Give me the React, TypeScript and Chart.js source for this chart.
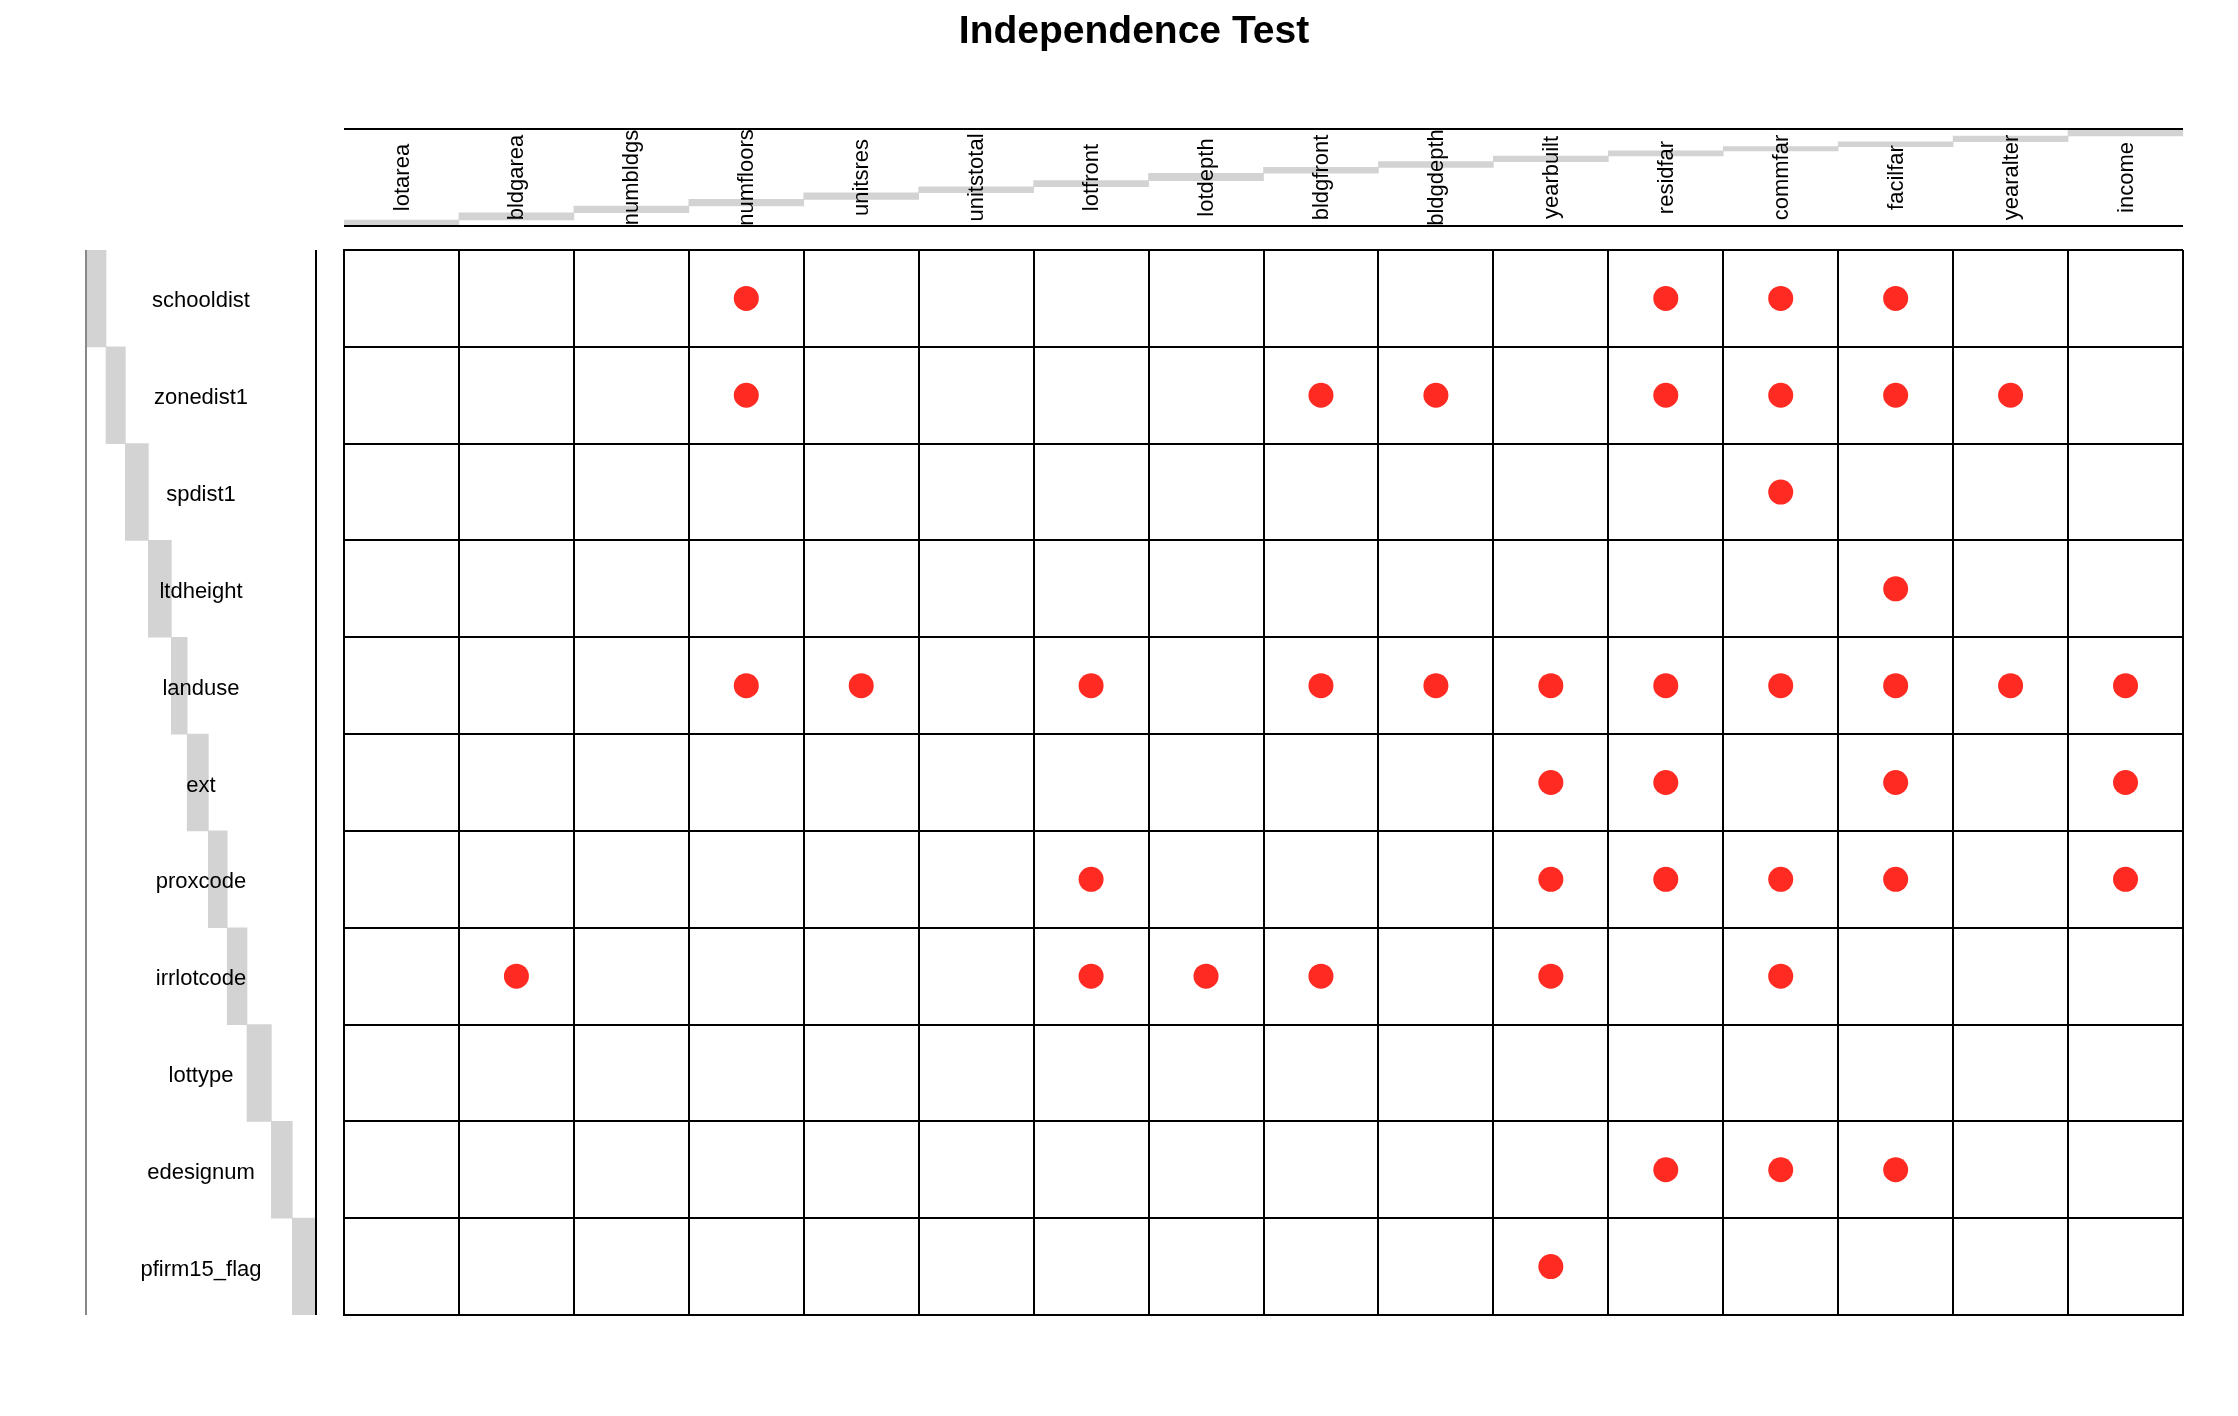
import React, { useEffect, useRef } from "react";
import { Chart, registerables } from "chart.js";

Chart.register(...registerables);

const W = 2238;
const H = 1416;
const FONT = '"Liberation Sans", Arial, Helvetica, sans-serif';

const titleText = "Independence Test";

const columns = [
  "lotarea", "bldgarea", "numbldgs", "numfloors", "unitsres", "unitstotal",
  "lotfront", "lotdepth", "bldgfront", "bldgdepth", "yearbuilt", "residfar",
  "commfar", "facilfar", "yearalter", "income",
];

const rows = [
  "schooldist", "zonedist1", "spdist1", "ltdheight", "landuse", "ext",
  "proxcode", "irrlotcode", "lottype", "edesignum", "pfirm15_flag",
];

// cumulative step boundaries (percent of band) for the grey header bars
const colSteps = [0, 6.2, 13.7, 20.6, 27.5, 34.3, 40.5, 46.7, 54.4, 60.5, 66.3, 72.2, 77.4, 81.8, 86.9, 92.8, 100];
const rowSteps = [0, 8.7, 17.1, 27.1, 37.1, 44.0, 53.2, 61.4, 70.0, 80.6, 89.7, 100];

// dependent (marked) columns for each row
const dependentCols: string[][] = [
  ["numfloors", "residfar", "commfar", "facilfar"],
  ["numfloors", "bldgfront", "bldgdepth", "residfar", "commfar", "facilfar", "yearalter"],
  ["commfar"],
  ["facilfar"],
  ["numfloors", "unitsres", "lotfront", "bldgfront", "bldgdepth", "yearbuilt", "residfar", "commfar", "facilfar", "yearalter", "income"],
  ["yearbuilt", "residfar", "facilfar", "income"],
  ["lotfront", "yearbuilt", "residfar", "commfar", "facilfar", "income"],
  ["bldgarea", "lotfront", "lotdepth", "bldgfront", "yearbuilt", "commfar"],
  [],
  ["residfar", "commfar", "facilfar"],
  ["yearbuilt"],
];

const GRID = { left: 344, top: 250, right: 2183, bottom: 1315 };
const TOPBAND = { top: 129, bottom: 226 };
const LEFTBAND = { left: 86, right: 316 };

const DOT = "#FF2B22";
const BAR = "#D3D3D3";

export default function App() {
  const mainRef = useRef<HTMLCanvasElement>(null);
  const topRef = useRef<HTMLCanvasElement>(null);
  const leftRef = useRef<HTMLCanvasElement>(null);

  useEffect(() => {
    const points: { x: number; y: number }[] = [];
    dependentCols.forEach((cols, r) => {
      cols.forEach((c) => {
        points.push({ x: columns.indexOf(c) + 0.5, y: r + 0.5 });
      });
    });

    const gridOpts = { color: "#000", lineWidth: 2, drawTicks: false };
    const borderOpts = { display: true, color: "#000", width: 2 };

    const titlePlugin = {
      id: "titleDraw",
      afterDraw(chart: any) {
        const ctx = chart.ctx;
        ctx.save();
        ctx.fillStyle = "#000";
        ctx.font = `bold 39px ${FONT}`;
        ctx.textAlign = "center";
        ctx.textBaseline = "alphabetic";
        ctx.fillText(titleText, 1134, 43);
        ctx.restore();
      },
    };

    const main = new Chart(mainRef.current!, {
      type: "scatter",
      data: {
        datasets: [
          {
            data: points,
            pointRadius: 12.5,
            pointHoverRadius: 12.5,
            backgroundColor: DOT,
            borderWidth: 0,
          },
        ],
      },
      options: {
        responsive: false,
        animation: false,
        events: [],
        layout: {
          padding: { left: GRID.left, top: GRID.top, right: W - GRID.right, bottom: H - GRID.bottom },
        },
        plugins: { legend: { display: false }, tooltip: { enabled: false }, title: { display: false } },
        scales: {
          x: {
            type: "linear", min: 0, max: columns.length,
            ticks: { display: false, stepSize: 1 },
            grid: gridOpts, border: borderOpts,
          },
          y: {
            type: "linear", min: 0, max: rows.length, reverse: true,
            ticks: { display: false, stepSize: 1 },
            grid: gridOpts, border: borderOpts,
          },
        },
      } as any,
      plugins: [titlePlugin],
    });

    const topPlugin = {
      id: "topBand",
      afterDatasetsDraw(chart: any) {
        const { ctx, chartArea } = chart;
        const xs = chart.scales.x;
        ctx.save();
        ctx.strokeStyle = "#000";
        ctx.lineWidth = 2;
        ctx.beginPath();
        ctx.moveTo(chartArea.left, chartArea.top);
        ctx.lineTo(chartArea.right, chartArea.top);
        ctx.moveTo(chartArea.left, chartArea.bottom);
        ctx.lineTo(chartArea.right, chartArea.bottom);
        ctx.stroke();
        ctx.fillStyle = "#000";
        ctx.font = `22px ${FONT}`;
        ctx.textAlign = "center";
        ctx.textBaseline = "middle";
        const cy = (chartArea.top + chartArea.bottom) / 2;
        columns.forEach((c, i) => {
          const x = xs.getPixelForValue(i);
          ctx.save();
          ctx.translate(x + 1, cy);
          ctx.rotate(-Math.PI / 2);
          ctx.fillText(c, 0, 0);
          ctx.restore();
        });
        ctx.restore();
      },
    };

    const top = new Chart(topRef.current!, {
      type: "bar",
      data: {
        labels: columns,
        datasets: [
          {
            data: columns.map((_, i) => [colSteps[i], colSteps[i + 1]]),
            backgroundColor: BAR,
            borderWidth: 0,
            barPercentage: 1,
            categoryPercentage: 1,
          },
        ],
      },
      options: {
        responsive: false,
        animation: false,
        events: [],
        layout: {
          padding: { left: GRID.left, top: TOPBAND.top, right: W - GRID.right, bottom: H - TOPBAND.bottom },
        },
        plugins: { legend: { display: false }, tooltip: { enabled: false } },
        scales: {
          x: { type: "category", display: false },
          y: { type: "linear", min: 0, max: 100, display: false },
        },
      } as any,
      plugins: [topPlugin],
    });

    const leftPlugin = {
      id: "leftBand",
      afterDatasetsDraw(chart: any) {
        const { ctx, chartArea } = chart;
        const ys = chart.scales.y;
        ctx.save();
        ctx.lineWidth = 2;
        ctx.strokeStyle = "#888";
        ctx.beginPath();
        ctx.moveTo(chartArea.left, chartArea.top);
        ctx.lineTo(chartArea.left, chartArea.bottom);
        ctx.stroke();
        ctx.strokeStyle = "#000";
        ctx.beginPath();
        ctx.moveTo(chartArea.right, chartArea.top);
        ctx.lineTo(chartArea.right, chartArea.bottom);
        ctx.stroke();
        ctx.fillStyle = "#000";
        ctx.font = `22px ${FONT}`;
        ctx.textAlign = "center";
        ctx.textBaseline = "middle";
        const cx = (chartArea.left + chartArea.right) / 2;
        rows.forEach((r, i) => {
          const y = ys.getPixelForValue(i);
          ctx.fillText(r, cx, y + 3);
        });
        ctx.restore();
      },
    };

    const left = new Chart(leftRef.current!, {
      type: "bar",
      data: {
        labels: rows,
        datasets: [
          {
            data: rows.map((_, i) => [rowSteps[i], rowSteps[i + 1]]),
            backgroundColor: BAR,
            borderWidth: 0,
            barPercentage: 1,
            categoryPercentage: 1,
          },
        ],
      },
      options: {
        indexAxis: "y",
        responsive: false,
        animation: false,
        events: [],
        layout: {
          padding: { left: LEFTBAND.left, top: GRID.top, right: W - LEFTBAND.right, bottom: H - GRID.bottom },
        },
        plugins: { legend: { display: false }, tooltip: { enabled: false } },
        scales: {
          x: { type: "linear", min: 0, max: 100, display: false },
          y: { type: "category", display: false },
        },
      } as any,
      plugins: [leftPlugin],
    });

    return () => {
      main.destroy();
      top.destroy();
      left.destroy();
    };
  }, []);

  const cStyle: React.CSSProperties = { position: "absolute", left: 0, top: 0, width: W, height: H };

  return (
    <div style={{ position: "absolute", left: 0, top: 0, width: W, height: H, background: "#fff", overflow: "hidden" }}>
      <canvas ref={topRef} width={W} height={H} style={cStyle} />
      <canvas ref={leftRef} width={W} height={H} style={cStyle} />
      <canvas ref={mainRef} width={W} height={H} style={cStyle} />
    </div>
  );
}
